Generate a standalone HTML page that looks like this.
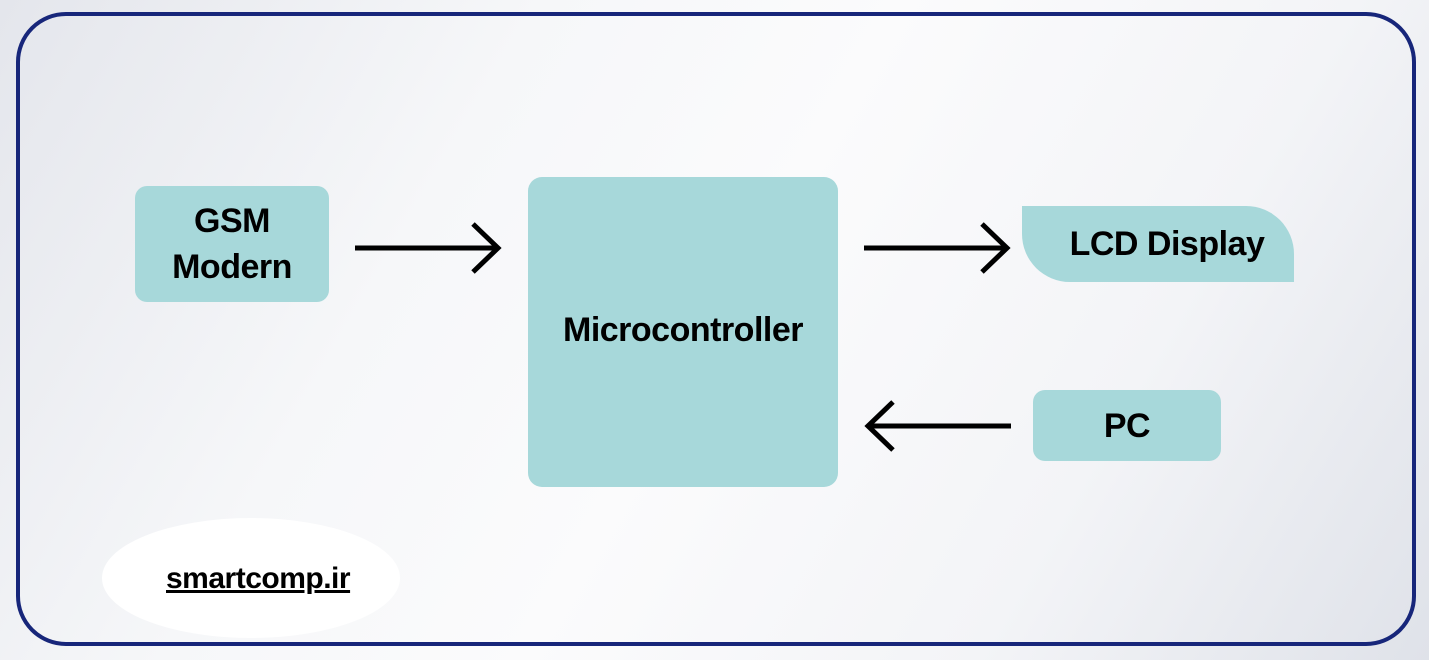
<!DOCTYPE html>
<html><head><style>
body{margin:0;width:1429px;height:660px;overflow:hidden;background:linear-gradient(120deg,#e4e6ec 0%,#f6f7f9 30%,#fbfbfc 50%,#f3f4f7 75%,#dfe2e9 100%);font-family:"Liberation Sans",sans-serif;position:relative}
.frame{position:absolute;left:16px;top:12px;width:1392px;height:626px;border:4px solid #17267a;border-radius:50px;box-sizing:content-box}
.box{position:absolute;background:#a7d8da;display:flex;align-items:center;justify-content:center;text-align:center;font-weight:bold;color:#000;font-size:34px;line-height:46px;letter-spacing:-0.5px}
</style></head><body>
<div class="frame"></div>
<div class="box" style="left:135px;top:186px;width:194px;height:116px;border-radius:12px">GSM<br>Modern</div>
<div class="box" style="left:528px;top:177px;width:310px;height:310px;border-radius:14px;padding-bottom:4px;box-sizing:border-box">Microcontroller</div>
<div class="box" style="left:1022px;top:206px;width:272px;height:76px;border-radius:0 48px 0 48px;padding-left:18px;box-sizing:border-box">LCD Display</div>
<div class="box" style="left:1033px;top:390px;width:188px;height:71px;border-radius:12px">PC</div>
<svg width="1429" height="660" style="position:absolute;left:0;top:0">
<g stroke="#000" stroke-width="5" fill="none">
<line x1="355" y1="248" x2="498" y2="248"/><polyline points="473,224 498,248 473,272"/>
<line x1="864" y1="248" x2="1007" y2="248"/><polyline points="982,224 1007,248 982,272"/>
<line x1="1011" y1="426" x2="868" y2="426"/><polyline points="893,402 868,426 893,450"/>
</g></svg>
<div style="position:absolute;left:102px;top:518px;width:298px;height:120px;border-radius:50%;background:#fff"></div>
<div style="position:absolute;left:166px;top:562px;font-size:30px;font-weight:bold;text-decoration:underline;color:#000;letter-spacing:-0.5px">smartcomp.ir</div>
</body></html>
